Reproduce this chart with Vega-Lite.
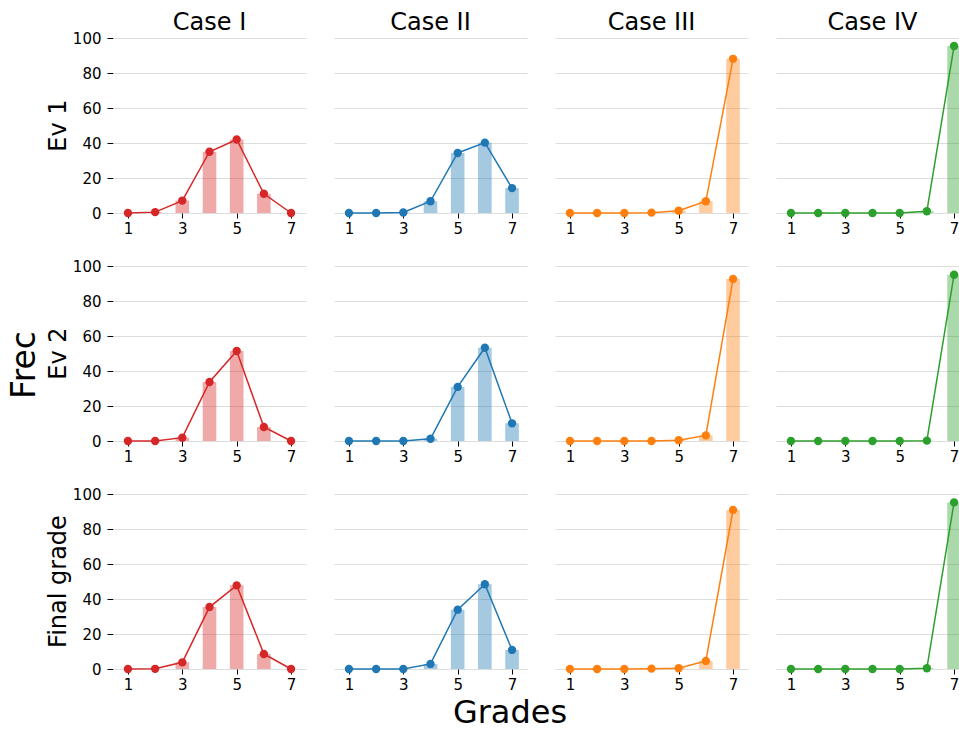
{
  "$schema": "https://vega.github.io/schema/vega-lite/v6.json",
  "padding": {"left": 9, "top": 11, "right": 0, "bottom": 0},
  "config": {
    "font": "DejaVu Sans",
    "view": {"stroke": null},
    "axis": {"labelColor": "#000000", "tickColor": "#000000", "labelFont": "DejaVu Sans"},
    "header": {"labelFont": "DejaVu Sans", "titleFont": "DejaVu Sans", "labelColor": "#000000", "titleColor": "#000000"}
  },
  "title": {"text": "Grades", "orient": "bottom", "anchor": "middle", "fontSize": 32, "fontWeight": "normal", "color": "#000000", "offset": 6, "dx": 21},
  "data": {
    "values": [
      {"case": "Case I", "ev": "Ev 1", "grade": 1, "value": 0},
      {"case": "Case I", "ev": "Ev 1", "grade": 2, "value": 0.5},
      {"case": "Case I", "ev": "Ev 1", "grade": 3, "value": 7.1},
      {"case": "Case I", "ev": "Ev 1", "grade": 4, "value": 35},
      {"case": "Case I", "ev": "Ev 1", "grade": 5, "value": 42},
      {"case": "Case I", "ev": "Ev 1", "grade": 6, "value": 11},
      {"case": "Case I", "ev": "Ev 1", "grade": 7, "value": 0},
      {"case": "Case II", "ev": "Ev 1", "grade": 1, "value": 0},
      {"case": "Case II", "ev": "Ev 1", "grade": 2, "value": 0},
      {"case": "Case II", "ev": "Ev 1", "grade": 3, "value": 0.3},
      {"case": "Case II", "ev": "Ev 1", "grade": 4, "value": 6.7},
      {"case": "Case II", "ev": "Ev 1", "grade": 5, "value": 34.3},
      {"case": "Case II", "ev": "Ev 1", "grade": 6, "value": 40.2},
      {"case": "Case II", "ev": "Ev 1", "grade": 7, "value": 14.2},
      {"case": "Case III", "ev": "Ev 1", "grade": 1, "value": 0},
      {"case": "Case III", "ev": "Ev 1", "grade": 2, "value": 0},
      {"case": "Case III", "ev": "Ev 1", "grade": 3, "value": 0},
      {"case": "Case III", "ev": "Ev 1", "grade": 4, "value": 0.2},
      {"case": "Case III", "ev": "Ev 1", "grade": 5, "value": 1.3},
      {"case": "Case III", "ev": "Ev 1", "grade": 6, "value": 6.7},
      {"case": "Case III", "ev": "Ev 1", "grade": 7, "value": 88.1},
      {"case": "Case IV", "ev": "Ev 1", "grade": 1, "value": 0},
      {"case": "Case IV", "ev": "Ev 1", "grade": 2, "value": 0},
      {"case": "Case IV", "ev": "Ev 1", "grade": 3, "value": 0},
      {"case": "Case IV", "ev": "Ev 1", "grade": 4, "value": 0},
      {"case": "Case IV", "ev": "Ev 1", "grade": 5, "value": 0},
      {"case": "Case IV", "ev": "Ev 1", "grade": 6, "value": 1.0},
      {"case": "Case IV", "ev": "Ev 1", "grade": 7, "value": 95.4},
      {"case": "Case I", "ev": "Ev 2", "grade": 1, "value": 0},
      {"case": "Case I", "ev": "Ev 2", "grade": 2, "value": 0},
      {"case": "Case I", "ev": "Ev 2", "grade": 3, "value": 1.9},
      {"case": "Case I", "ev": "Ev 2", "grade": 4, "value": 33.7},
      {"case": "Case I", "ev": "Ev 2", "grade": 5, "value": 51.4},
      {"case": "Case I", "ev": "Ev 2", "grade": 6, "value": 8.0},
      {"case": "Case I", "ev": "Ev 2", "grade": 7, "value": 0},
      {"case": "Case II", "ev": "Ev 2", "grade": 1, "value": 0},
      {"case": "Case II", "ev": "Ev 2", "grade": 2, "value": 0},
      {"case": "Case II", "ev": "Ev 2", "grade": 3, "value": 0},
      {"case": "Case II", "ev": "Ev 2", "grade": 4, "value": 1.3},
      {"case": "Case II", "ev": "Ev 2", "grade": 5, "value": 30.9},
      {"case": "Case II", "ev": "Ev 2", "grade": 6, "value": 53.3},
      {"case": "Case II", "ev": "Ev 2", "grade": 7, "value": 10.1},
      {"case": "Case III", "ev": "Ev 2", "grade": 1, "value": 0},
      {"case": "Case III", "ev": "Ev 2", "grade": 2, "value": 0},
      {"case": "Case III", "ev": "Ev 2", "grade": 3, "value": 0},
      {"case": "Case III", "ev": "Ev 2", "grade": 4, "value": 0},
      {"case": "Case III", "ev": "Ev 2", "grade": 5, "value": 0.4},
      {"case": "Case III", "ev": "Ev 2", "grade": 6, "value": 3.2},
      {"case": "Case III", "ev": "Ev 2", "grade": 7, "value": 92.6},
      {"case": "Case IV", "ev": "Ev 2", "grade": 1, "value": 0},
      {"case": "Case IV", "ev": "Ev 2", "grade": 2, "value": 0},
      {"case": "Case IV", "ev": "Ev 2", "grade": 3, "value": 0},
      {"case": "Case IV", "ev": "Ev 2", "grade": 4, "value": 0},
      {"case": "Case IV", "ev": "Ev 2", "grade": 5, "value": 0},
      {"case": "Case IV", "ev": "Ev 2", "grade": 6, "value": 0.2},
      {"case": "Case IV", "ev": "Ev 2", "grade": 7, "value": 95.0},
      {"case": "Case I", "ev": "Final grade", "grade": 1, "value": 0},
      {"case": "Case I", "ev": "Final grade", "grade": 2, "value": 0.1},
      {"case": "Case I", "ev": "Final grade", "grade": 3, "value": 3.8},
      {"case": "Case I", "ev": "Final grade", "grade": 4, "value": 35.4},
      {"case": "Case I", "ev": "Final grade", "grade": 5, "value": 47.8},
      {"case": "Case I", "ev": "Final grade", "grade": 6, "value": 8.6},
      {"case": "Case I", "ev": "Final grade", "grade": 7, "value": 0},
      {"case": "Case II", "ev": "Final grade", "grade": 1, "value": 0},
      {"case": "Case II", "ev": "Final grade", "grade": 2, "value": 0},
      {"case": "Case II", "ev": "Final grade", "grade": 3, "value": 0},
      {"case": "Case II", "ev": "Final grade", "grade": 4, "value": 2.9},
      {"case": "Case II", "ev": "Final grade", "grade": 5, "value": 33.9},
      {"case": "Case II", "ev": "Final grade", "grade": 6, "value": 48.4},
      {"case": "Case II", "ev": "Final grade", "grade": 7, "value": 10.9},
      {"case": "Case III", "ev": "Final grade", "grade": 1, "value": 0},
      {"case": "Case III", "ev": "Final grade", "grade": 2, "value": 0},
      {"case": "Case III", "ev": "Final grade", "grade": 3, "value": 0},
      {"case": "Case III", "ev": "Final grade", "grade": 4, "value": 0.2},
      {"case": "Case III", "ev": "Final grade", "grade": 5, "value": 0.4},
      {"case": "Case III", "ev": "Final grade", "grade": 6, "value": 4.6},
      {"case": "Case III", "ev": "Final grade", "grade": 7, "value": 90.9},
      {"case": "Case IV", "ev": "Final grade", "grade": 1, "value": 0},
      {"case": "Case IV", "ev": "Final grade", "grade": 2, "value": 0},
      {"case": "Case IV", "ev": "Final grade", "grade": 3, "value": 0},
      {"case": "Case IV", "ev": "Final grade", "grade": 4, "value": 0},
      {"case": "Case IV", "ev": "Final grade", "grade": 5, "value": 0},
      {"case": "Case IV", "ev": "Final grade", "grade": 6, "value": 0.4},
      {"case": "Case IV", "ev": "Final grade", "grade": 7, "value": 95.2}
    ]
  },
  "facet": {
    "row": {
      "field": "ev", "type": "nominal", "sort": ["Ev 1", "Ev 2", "Final grade"],
      "header": {"title": "Frec", "titleOrient": "left", "labelOrient": "left", "labelAngle": -90, "labelFontSize": 24, "titleFontSize": 33, "titleFontWeight": "normal", "labelPadding": -11, "titlePadding": -5}
    },
    "column": {
      "field": "case", "type": "nominal", "sort": ["Case I", "Case II", "Case III", "Case IV"],
      "header": {"title": null, "labelFontSize": 24, "labelPadding": 3}
    }
  },
  "spacing": {"row": 30, "column": 28},
  "resolve": {"axis": {"x": "independent"}},
  "spec": {
    "width": 193,
    "height": 175,
    "encoding": {
      "x": {"field": "grade", "type": "quantitative", "scale": {"domain": [0.45, 7.55], "nice": false, "zero": false, "padding": 0},
        "axis": {"values": [1, 3, 5, 7], "title": null, "grid": false, "domain": false, "tickSize": 5, "labelFontSize": 15, "labelPadding": 3}},
      "y": {"field": "value", "type": "quantitative", "scale": {"domain": [0, 100], "nice": false, "padding": 0},
        "axis": {"values": [0, 20, 40, 60, 80, 100], "title": null, "domain": false, "tickSize": 6, "labelFontSize": 15, "labelPadding": 6, "gridColor": "#dddddd", "gridWidth": 1.2}},
      "color": {"field": "case", "type": "nominal",
        "scale": {"domain": ["Case I", "Case II", "Case III", "Case IV"], "range": ["#d62728", "#1f77b4", "#ff7f0e", "#2ca02c"]},
        "legend": null}
    },
    "layer": [
      {"mark": {"type": "bar", "orient": "vertical", "width": 13.6, "opacity": 0.4}},
      {"mark": {"type": "line", "strokeWidth": 1.5}},
      {"mark": {"type": "point", "filled": true, "size": 70, "opacity": 1}}
    ]
  }
}
